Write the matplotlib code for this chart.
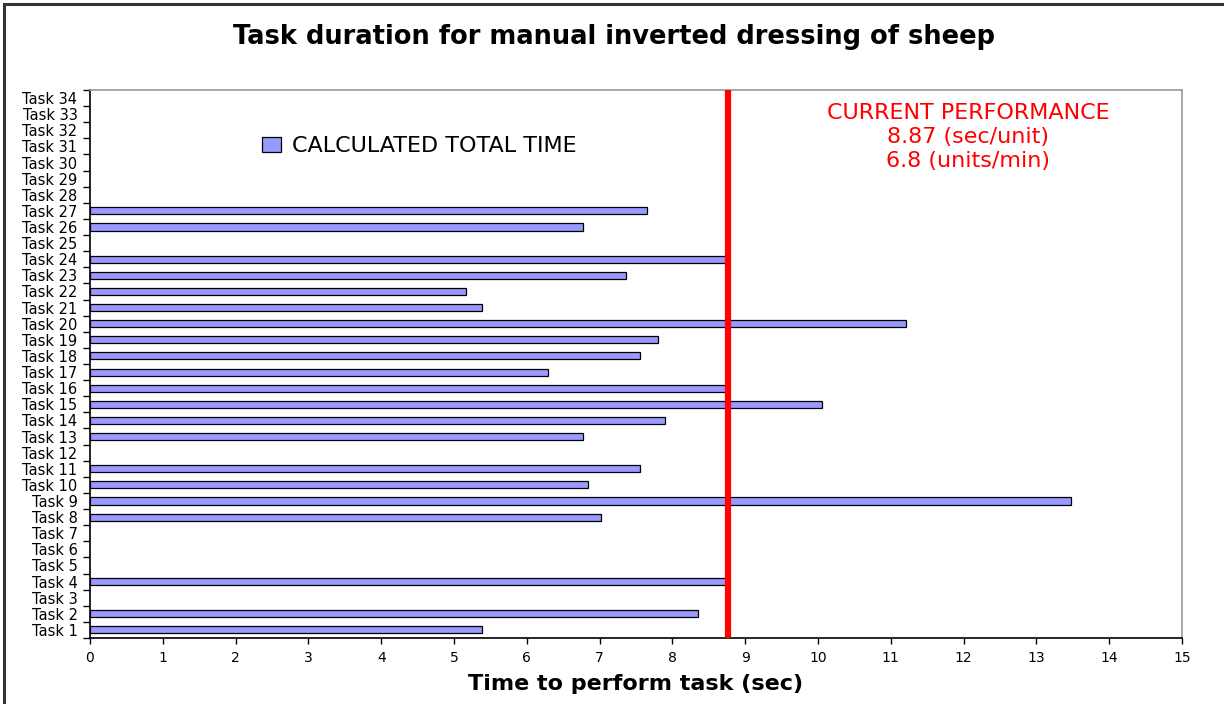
import matplotlib
matplotlib.use("Agg")
import matplotlib.pyplot as plt
from matplotlib.patches import Rectangle, Patch
import numpy as np

plt.rcParams['font.family'] = ['DejaVu Sans']

tasks = [f"Task {i}" for i in range(1, 35)]
durations = [5.38, 8.35, 0, 8.75, 0, 0, 0, 7.02, 13.48, 6.84,
             7.55, 0, 6.77, 7.90, 10.05, 8.75, 6.29, 7.55, 7.80, 11.21,
             5.39, 5.16, 7.36, 8.75, 0, 6.77, 7.65, 0, 0, 0,
             0, 0, 0, 0]
current_line = 8.77
perf_lines = ["CURRENT PERFORMANCE", "8.87 (sec/unit)", "6.8 (units/min)"]
legend_label = "CALCULATED TOTAL TIME"
title = "Task duration for manual inverted dressing of sheep"
xlabel = "Time to perform task (sec)"

W, H = 1224, 704
fig = plt.figure(figsize=(W / 100, H / 100), dpi=100)
fig.patch.set_facecolor('white')

# outer frame (only top/left visible)
fig.add_artist(Rectangle((4 / W, -0.05), 1.2, 1 - 4 / H + 0.05, transform=fig.transFigure,
                         fill=False, edgecolor='#333333', linewidth=2.2))

left, right, top, bottom = 90, 1182, 90, 638
ax = fig.add_axes([left / W, 1 - bottom / H, (right - left) / W, (bottom - top) / H])

y = np.arange(len(tasks))
vals = np.array(durations)
mask = vals > 0
ax.barh(y[mask], vals[mask], height=0.44, color='#9999FF', edgecolor='black',
        linewidth=0.9, zorder=2)

ax.axvline(current_line, color='#FF0000', linewidth=4.5, zorder=3)

ax.set_xlim(0, 15)
ax.set_ylim(-0.5, len(tasks) - 0.5)
ax.set_xticks(np.arange(0, 16, 1))
ax.set_xticklabels([str(i) for i in range(16)], fontsize=10)
ax.set_yticks(y)
ax.set_yticklabels(tasks, fontsize=10.5)
ax.tick_params(axis='y', which='major', length=0, pad=9)
ax.set_yticks(np.arange(-0.5, len(tasks), 1), minor=True)
ax.tick_params(axis='y', which='minor', length=5, width=1, direction='out', color='black')
ax.tick_params(axis='x', which='major', length=4, width=1, direction='out', pad=5)

for s in ['left', 'bottom']:
    ax.spines[s].set_color('black')
    ax.spines[s].set_linewidth(1.2)
for s in ['top', 'right']:
    ax.spines[s].set_color('#999999')
    ax.spines[s].set_linewidth(1.2)

ax.set_xlabel(xlabel, fontsize=16, fontweight='bold', labelpad=7)

fig.text(614 / W, 1 - 37 / H, title, ha='center', va='center', fontsize=18.5, fontweight='bold')

leg = ax.legend(handles=[Patch(facecolor='#9999FF', edgecolor='black', linewidth=0.9,
                               label=legend_label)],
                loc='center left', bbox_to_anchor=((242 - left) / (right - left),
                                                   1 - (146 - top) / (bottom - top)),
                frameon=False, fontsize=16, handlelength=0.85, handleheight=0.65,
                handletextpad=0.5)

fig.text(968 / W, 1 - 113 / H, perf_lines[0], ha='center', va='center', fontsize=16, color='#FF0000')
fig.text(968 / W, 1 - 137 / H, perf_lines[1], ha='center', va='center', fontsize=16, color='#FF0000')
fig.text(968 / W, 1 - 161 / H, perf_lines[2], ha='center', va='center', fontsize=16, color='#FF0000')

fig.savefig("out.png", dpi=100)
